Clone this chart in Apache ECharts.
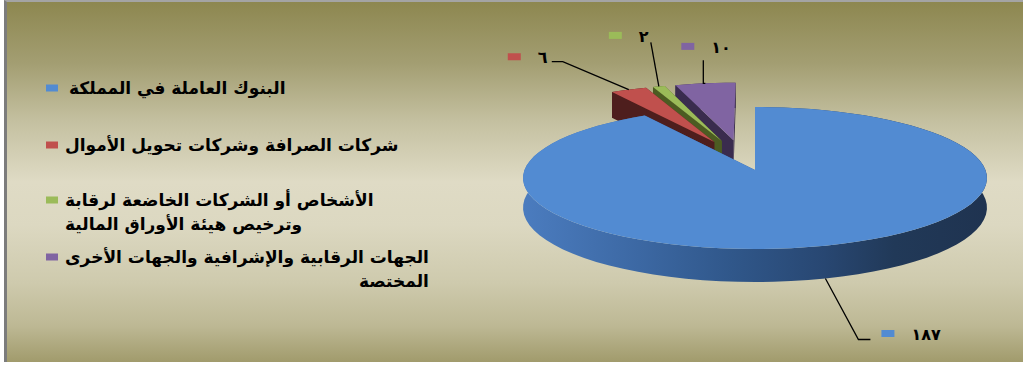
<!DOCTYPE html>
<html>
<head>
<meta charset="utf-8">
<script src="https://cdn.jsdelivr.net/npm/echarts@6/dist/echarts.min.js"></script>
<style>
  html, body { margin: 0; padding: 0; background: #ffffff; }
  #frame {
    position: absolute; left: 4px; top: 0; width: 1016px; height: 360px;
    border-top: 2px solid #a4a4a4; border-left: 3px solid #7c7c7c;
    background: linear-gradient(to bottom, #8d8750 0%, #a39e72 17%, #c4c0a0 33%, #dfdbc5 50%, #dcd8c1 62%, #cecaad 78%, #bdb894 90%, #a19b6c 100%);
  }
  #chart { position: absolute; left: 0; top: 0; width: 1024px; height: 365px; }
</style>
</head>
<body>
<div id="frame"></div>
<div id="chart"></div>
<script>
// Categories and their counts
const categories = [
  'البنوك العاملة في المملكة',
  'شركات الصرافة وشركات تحويل الأموال',
  'الأشخاص أو الشركات الخاضعة لرقابة وترخيص هيئة الأوراق المالية',
  'الجهات الرقابية والإشرافية والجهات الأخرى المختصة'
];
const values = [187, 6, 2, 10];

// Legend text split into display lines
const legendLines = [
  ['البنوك العاملة في المملكة'],
  ['شركات الصرافة وشركات تحويل الأموال'],
  ['الأشخاص أو الشركات الخاضعة لرقابة', 'وترخيص هيئة الأوراق المالية'],
  ['الجهات الرقابية والإشرافية والجهات الأخرى', 'المختصة']
];

const topColors = ['#528bd2', '#c0504d', '#9bbb59', '#8064a2'];
const sideColors = ['#3a66a2', '#4e1e1d', '#4c5c22', '#3a2c4e'];

// 3D pie geometry (perspective tilted disc, units of the radius)
const PIE = { cx: 755, cy: 170, rx: 230.5, ry: 70.1, k: 0.1127, depth: 29.3, steps: 90 };
// Pulled-out slices: radial pull plus a shared shift of the detached group
const pullOut = [0, 0.3, 0.3, 0.3];
const groupShift = [[0, 0], [-0.052, 0.151], [-0.052, 0.151], [-0.052, 0.151]];
// Paint order: slices nearer the viewer on top
const sliceZ = [4, 3, 2, 1];

// Data label placement relative to each slice's anchor point
const labelStyle = [
  { anchor: 'bottom', leader: [[33, 61], [45, 61]], marker: [56, 55] },
  { anchor: 'top', leader: [[-66, -28], [-77, -28]], marker: [-121, -33] },
  { anchor: 'top', leader: [[-8, -44]], marker: [-50, -51] },
  { anchor: 'top', leader: [[-2, 0], [-2, -23]], marker: [-24, -37] }
];

// Legend icon centre positions
const legendIconY = [88, 145, 200, 257];

const total = values.reduce((a, b) => a + b, 0);
const starts = [];
values.reduce((acc, v, i) => { starts[i] = acc; return acc + v; }, 0);

const arabicDigits = '٠١٢٣٤٥٦٧٨٩';
function toArabic(n) { return String(n).replace(/\d/g, d => arabicDigits[+d]); }

function proj(px, pz, down) {
  const s = 1 / (1 + PIE.k * pz);
  return [PIE.cx + PIE.rx * px * s, PIE.cy - PIE.ry * pz * s + PIE.depth * s * down];
}

const rad = d => d * Math.PI / 180;

function renderSlice(params, api) {
  const i = params.seriesIndex;
  const v = api.value(0);
  const a0 = starts[i] / total * 360;
  const a1 = a0 + v / total * 360;
  const bis = rad((a0 + a1) / 2);
  const ex = pullOut[i] * Math.sin(bis) + groupShift[i][0];
  const ez = pullOut[i] * Math.cos(bis) + groupShift[i][1];

  const n = Math.max(2, Math.round(PIE.steps * (a1 - a0) / 360) + 2);
  const arc = (down) => {
    const pts = [];
    for (let t = 0; t <= n; t++) {
      const th = rad(a0 + (a1 - a0) * t / n);
      pts.push(proj(ex + Math.sin(th), ez + Math.cos(th), down));
    }
    return pts;
  };
  const top = arc(0), bot = arc(1);
  const tip0 = proj(ex, ez, 0), tip1 = proj(ex, ez, 1);

  const wallFill = i === 0
    ? new echarts.graphic.LinearGradient(0, 0, 1, 0, [
        { offset: 0, color: '#4b7cbf' },
        { offset: 0.25, color: '#3c68a3' },
        { offset: 0.45, color: '#30578a' },
        { offset: 0.65, color: '#284772' },
        { offset: 0.8, color: '#213958' },
        { offset: 1, color: '#1f3350' }
      ])
    : sideColors[i];

  const children = [];
  children.push({ type: 'polygon', shape: { points: top.concat(bot.slice().reverse()) }, style: { fill: wallFill } });
  children.push({ type: 'polygon', shape: { points: [tip0, top[0], bot[0], tip1] }, style: { fill: sideColors[i] } });
  children.push({ type: 'polygon', shape: { points: [tip0, top[n], bot[n], tip1] }, style: { fill: sideColors[i] } });
  children.push({ type: 'polygon', shape: { points: [tip0].concat(top) }, style: { fill: topColors[i] } });

  // Data label: leader line, colour key and value
  const L = labelStyle[i];
  const anchor = proj(ex + Math.sin(bis), ez + Math.cos(bis), L.anchor === 'bottom' ? 1 : 0);
  const line = [anchor].concat(L.leader.map(p => [anchor[0] + p[0], anchor[1] + p[1]]));
  children.push({ type: 'polyline', shape: { points: line }, style: { stroke: '#000', lineWidth: 1.3, fill: null } });
  const mx = anchor[0] + L.marker[0], my = anchor[1] + L.marker[1];
  children.push({ type: 'rect', shape: { x: mx, y: my - 3.5, width: 13, height: 7 }, style: { fill: topColors[i] } });
  children.push({
    type: 'text', x: mx + 30, y: my + 1,
    style: { text: toArabic(v), fill: '#000', font: 'bold 16px "DejaVu Sans"', align: 'left', verticalAlign: 'middle' }
  });

  return { type: 'group', children };
}

const fs = 17, lh = 24;
const richBase = { fontFamily: 'DejaVu Sans', fontWeight: 'bold', fontSize: fs, lineHeight: lh, color: '#000' };
const legends = categories.map((name, i) => {
  const two = legendLines[i].length > 1;
  return {
    data: [name],
    orient: 'vertical',
    left: 46,
    top: legendIconY[i] - (two ? 1.5 * lh : 0.5 * lh),
    padding: 0,
    icon: 'rect',
    itemWidth: 12,
    itemHeight: 7,
    selectedMode: false,
    formatter: function (nm) {
      const k = categories.indexOf(nm);
      const ls = legendLines[k];
      if (ls.length === 1) return '{a|' + ls[0] + '}';
      return '{a|' + ls[0] + '}\n{' + (k === 3 ? 'r' : 'a') + '|' + ls[1] + '}';
    },
    textStyle: Object.assign({}, richBase, {
      padding: [two ? lh : 0, 0, 0, i === 0 ? 6 : 2],
      rich: {
        a: Object.assign({}, richBase),
        r: Object.assign({}, richBase, { align: 'right' })
      }
    })
  };
});

const chart = echarts.init(document.getElementById('chart'), null, { renderer: 'svg' });
chart.setOption({
  backgroundColor: 'transparent',
  animation: false,
  color: topColors,
  legend: legends,
  series: categories.map((name, i) => ({
    type: 'custom',
    name: name,
    coordinateSystem: 'none',
    renderItem: renderSlice,
    data: [[values[i]]],
    z: sliceZ[i],
    silent: true
  }))
});
</script>
</body>
</html>
